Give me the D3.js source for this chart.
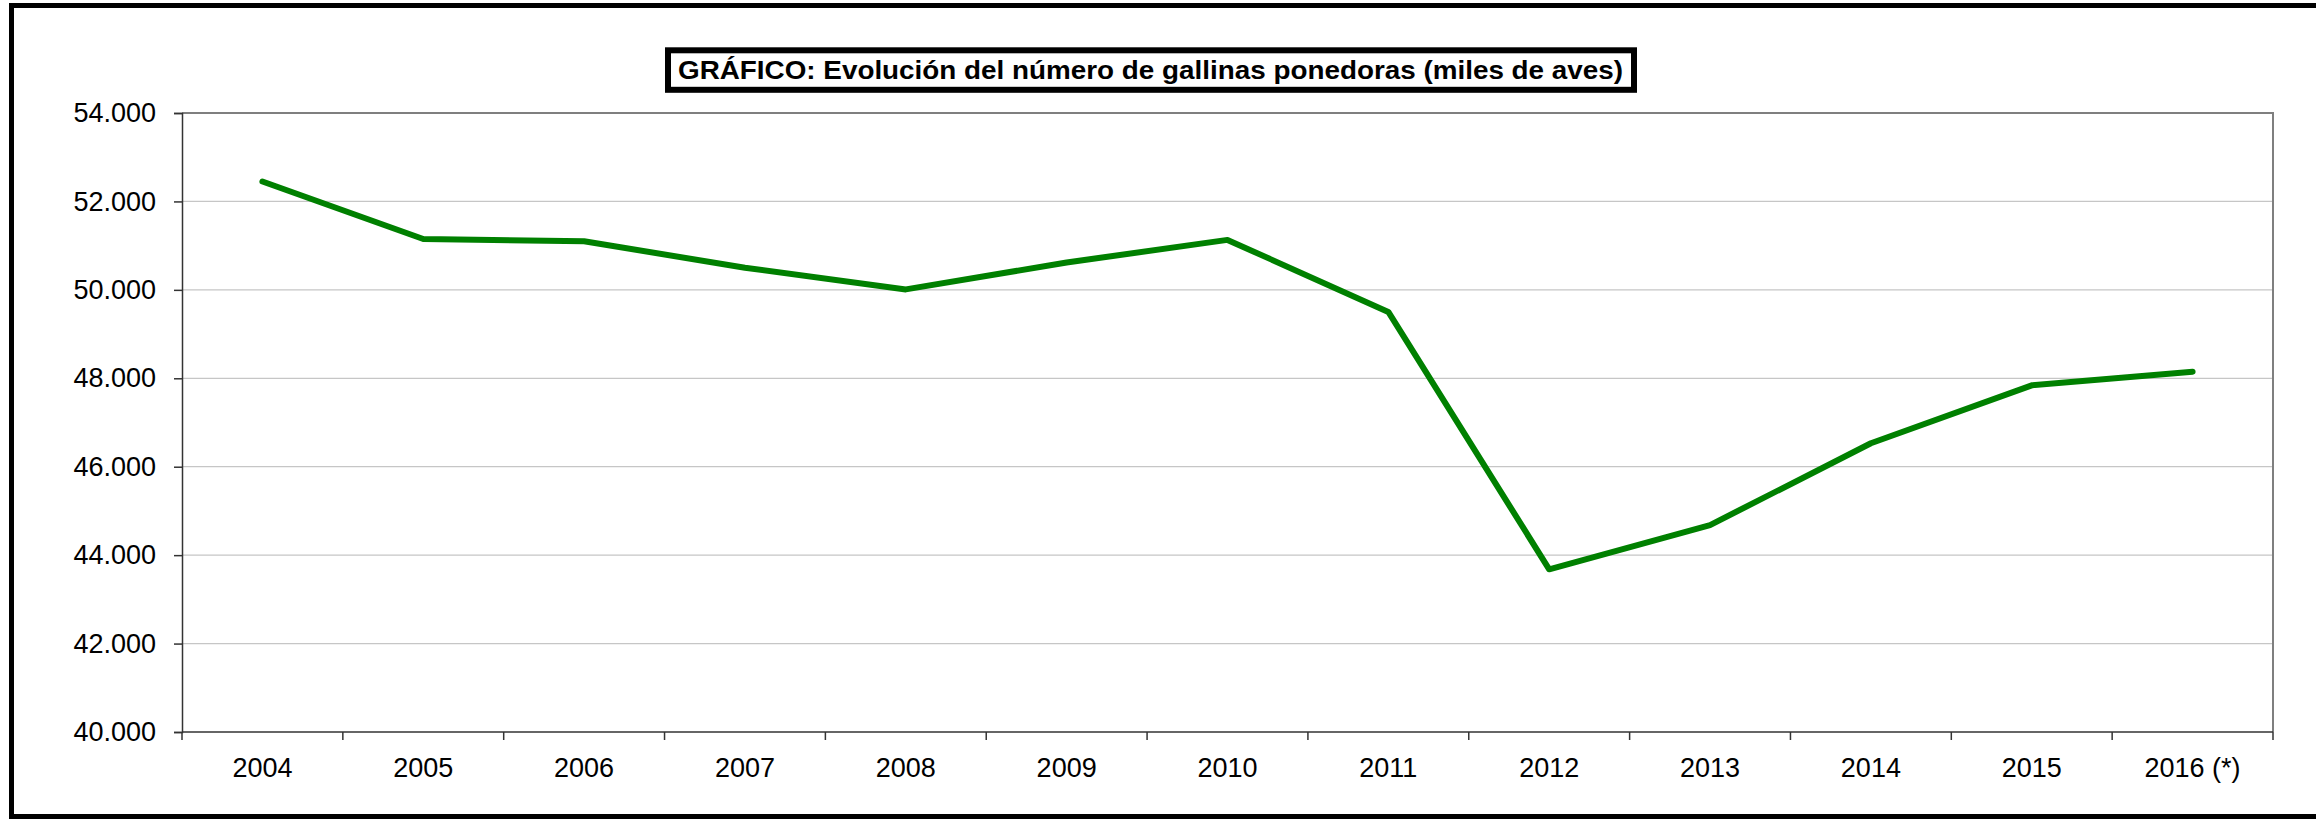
<!DOCTYPE html>
<html>
<head>
<meta charset="utf-8">
<script src="https://cdn.jsdelivr.net/npm/d3@7"></script>
<style>
  html, body { margin: 0; padding: 0; background: #fff; }
  svg { display: block; }
  text { font-family: "Liberation Sans", Arial, sans-serif; fill: #000; }
</style>
</head>
<body>
<svg id="chart" width="2316" height="821"></svg>
<script>
// ---- data ----
const categories = ["2004","2005","2006","2007","2008","2009","2010","2011","2012","2013","2014","2015","2016 (*)"];
const hens = [52450, 51150, 51100, 50500, 50010, 50620, 51130, 49500, 43680, 44680, 46530, 47840, 48150];
const yTicks = [40000, 42000, 44000, 46000, 48000, 50000, 52000, 54000];
const titleText = "GRÁFICO: Evolución del número de gallinas ponedoras (miles de aves)";

// ---- layout ----
const W = 2316, H = 821;
const plot = { left: 182, right: 2273, top: 113, bottom: 732 };

const svg = d3.select("#chart");

// outer frame
svg.append("rect")
  .attr("x", 11.5).attr("y", 5.5)
  .attr("width", 2320).attr("height", 811)
  .attr("fill", "#fff").attr("stroke", "#000").attr("stroke-width", 5);

const x = d3.scaleBand().domain(categories).range([plot.left, plot.right]).padding(0);
const y = d3.scaleLinear().domain([40000, 54000]).range([plot.bottom, plot.top]);

const loc = d3.formatLocale({ decimal: ",", thousands: ".", grouping: [3], currency: ["", "€"] });
const fmt = loc.format(",d");

// gridlines
svg.append("g")
  .selectAll("line")
  .data(yTicks.filter(v => v > 40000 && v < 54000))
  .join("line")
  .attr("x1", plot.left).attr("x2", plot.right)
  .attr("y1", d => y(d)).attr("y2", d => y(d))
  .attr("stroke", "#c6c6c6").attr("stroke-width", 1.2);

// plot area border (top / right)
svg.append("path")
  .attr("d", `M${plot.left},${y(54000)}H${plot.right}V${plot.bottom}`)
  .attr("fill", "none").attr("stroke", "#7f7f7f").attr("stroke-width", 2);

// y axis
const yAxis = d3.axisLeft(y).tickValues(yTicks).tickFormat(fmt).tickSize(8).tickPadding(18);
const gy = svg.append("g").attr("transform", `translate(${plot.left},0)`).call(yAxis);
gy.select(".domain").attr("stroke", "#333").attr("stroke-width", 1.5);
gy.selectAll(".tick line").attr("stroke", "#333").attr("stroke-width", 1.5);
gy.selectAll(".tick text")
  .attr("font-size", 27)
  .attr("font-family", "'Liberation Sans', Arial, sans-serif")
  .attr("fill", "#000");

// x axis line
svg.append("line")
  .attr("x1", plot.left).attr("x2", plot.right)
  .attr("y1", plot.bottom).attr("y2", plot.bottom)
  .attr("stroke", "#333").attr("stroke-width", 1.5);

// x ticks at category boundaries
const boundaries = categories.map(c => x(c)).concat([x(categories[categories.length - 1]) + x.bandwidth()]);
svg.append("g").selectAll("line")
  .data(boundaries)
  .join("line")
  .attr("x1", d => d).attr("x2", d => d)
  .attr("y1", plot.bottom).attr("y2", plot.bottom + 8)
  .attr("stroke", "#333").attr("stroke-width", 1.5);

// x labels
svg.append("g").selectAll("text")
  .data(categories)
  .join("text")
  .attr("x", d => x(d) + x.bandwidth() / 2)
  .attr("y", 777)
  .attr("text-anchor", "middle")
  .attr("font-size", 27)
  .text(d => d);

// line
const line = d3.line()
  .x((d, i) => x(categories[i]) + x.bandwidth() / 2)
  .y(d => y(d));

svg.append("path")
  .datum(hens)
  .attr("d", line)
  .attr("fill", "none")
  .attr("stroke", "#008000")
  .attr("stroke-width", 6)
  .attr("stroke-linejoin", "round")
  .attr("stroke-linecap", "round");

// title box
const titleBox = { x: 668, y: 50.3, w: 966, h: 39.5 };
svg.append("rect")
  .attr("x", titleBox.x).attr("y", titleBox.y)
  .attr("width", titleBox.w).attr("height", titleBox.h)
  .attr("fill", "#fff").attr("stroke", "#000").attr("stroke-width", 6);

svg.append("text")
  .attr("x", 1150.5)
  .attr("y", 79.3)
  .attr("text-anchor", "middle")
  .attr("font-size", 26)
  .attr("font-weight", "bold")
  .attr("textLength", 945)
  .attr("lengthAdjust", "spacingAndGlyphs")
  .text(titleText);
</script>
</body>
</html>
